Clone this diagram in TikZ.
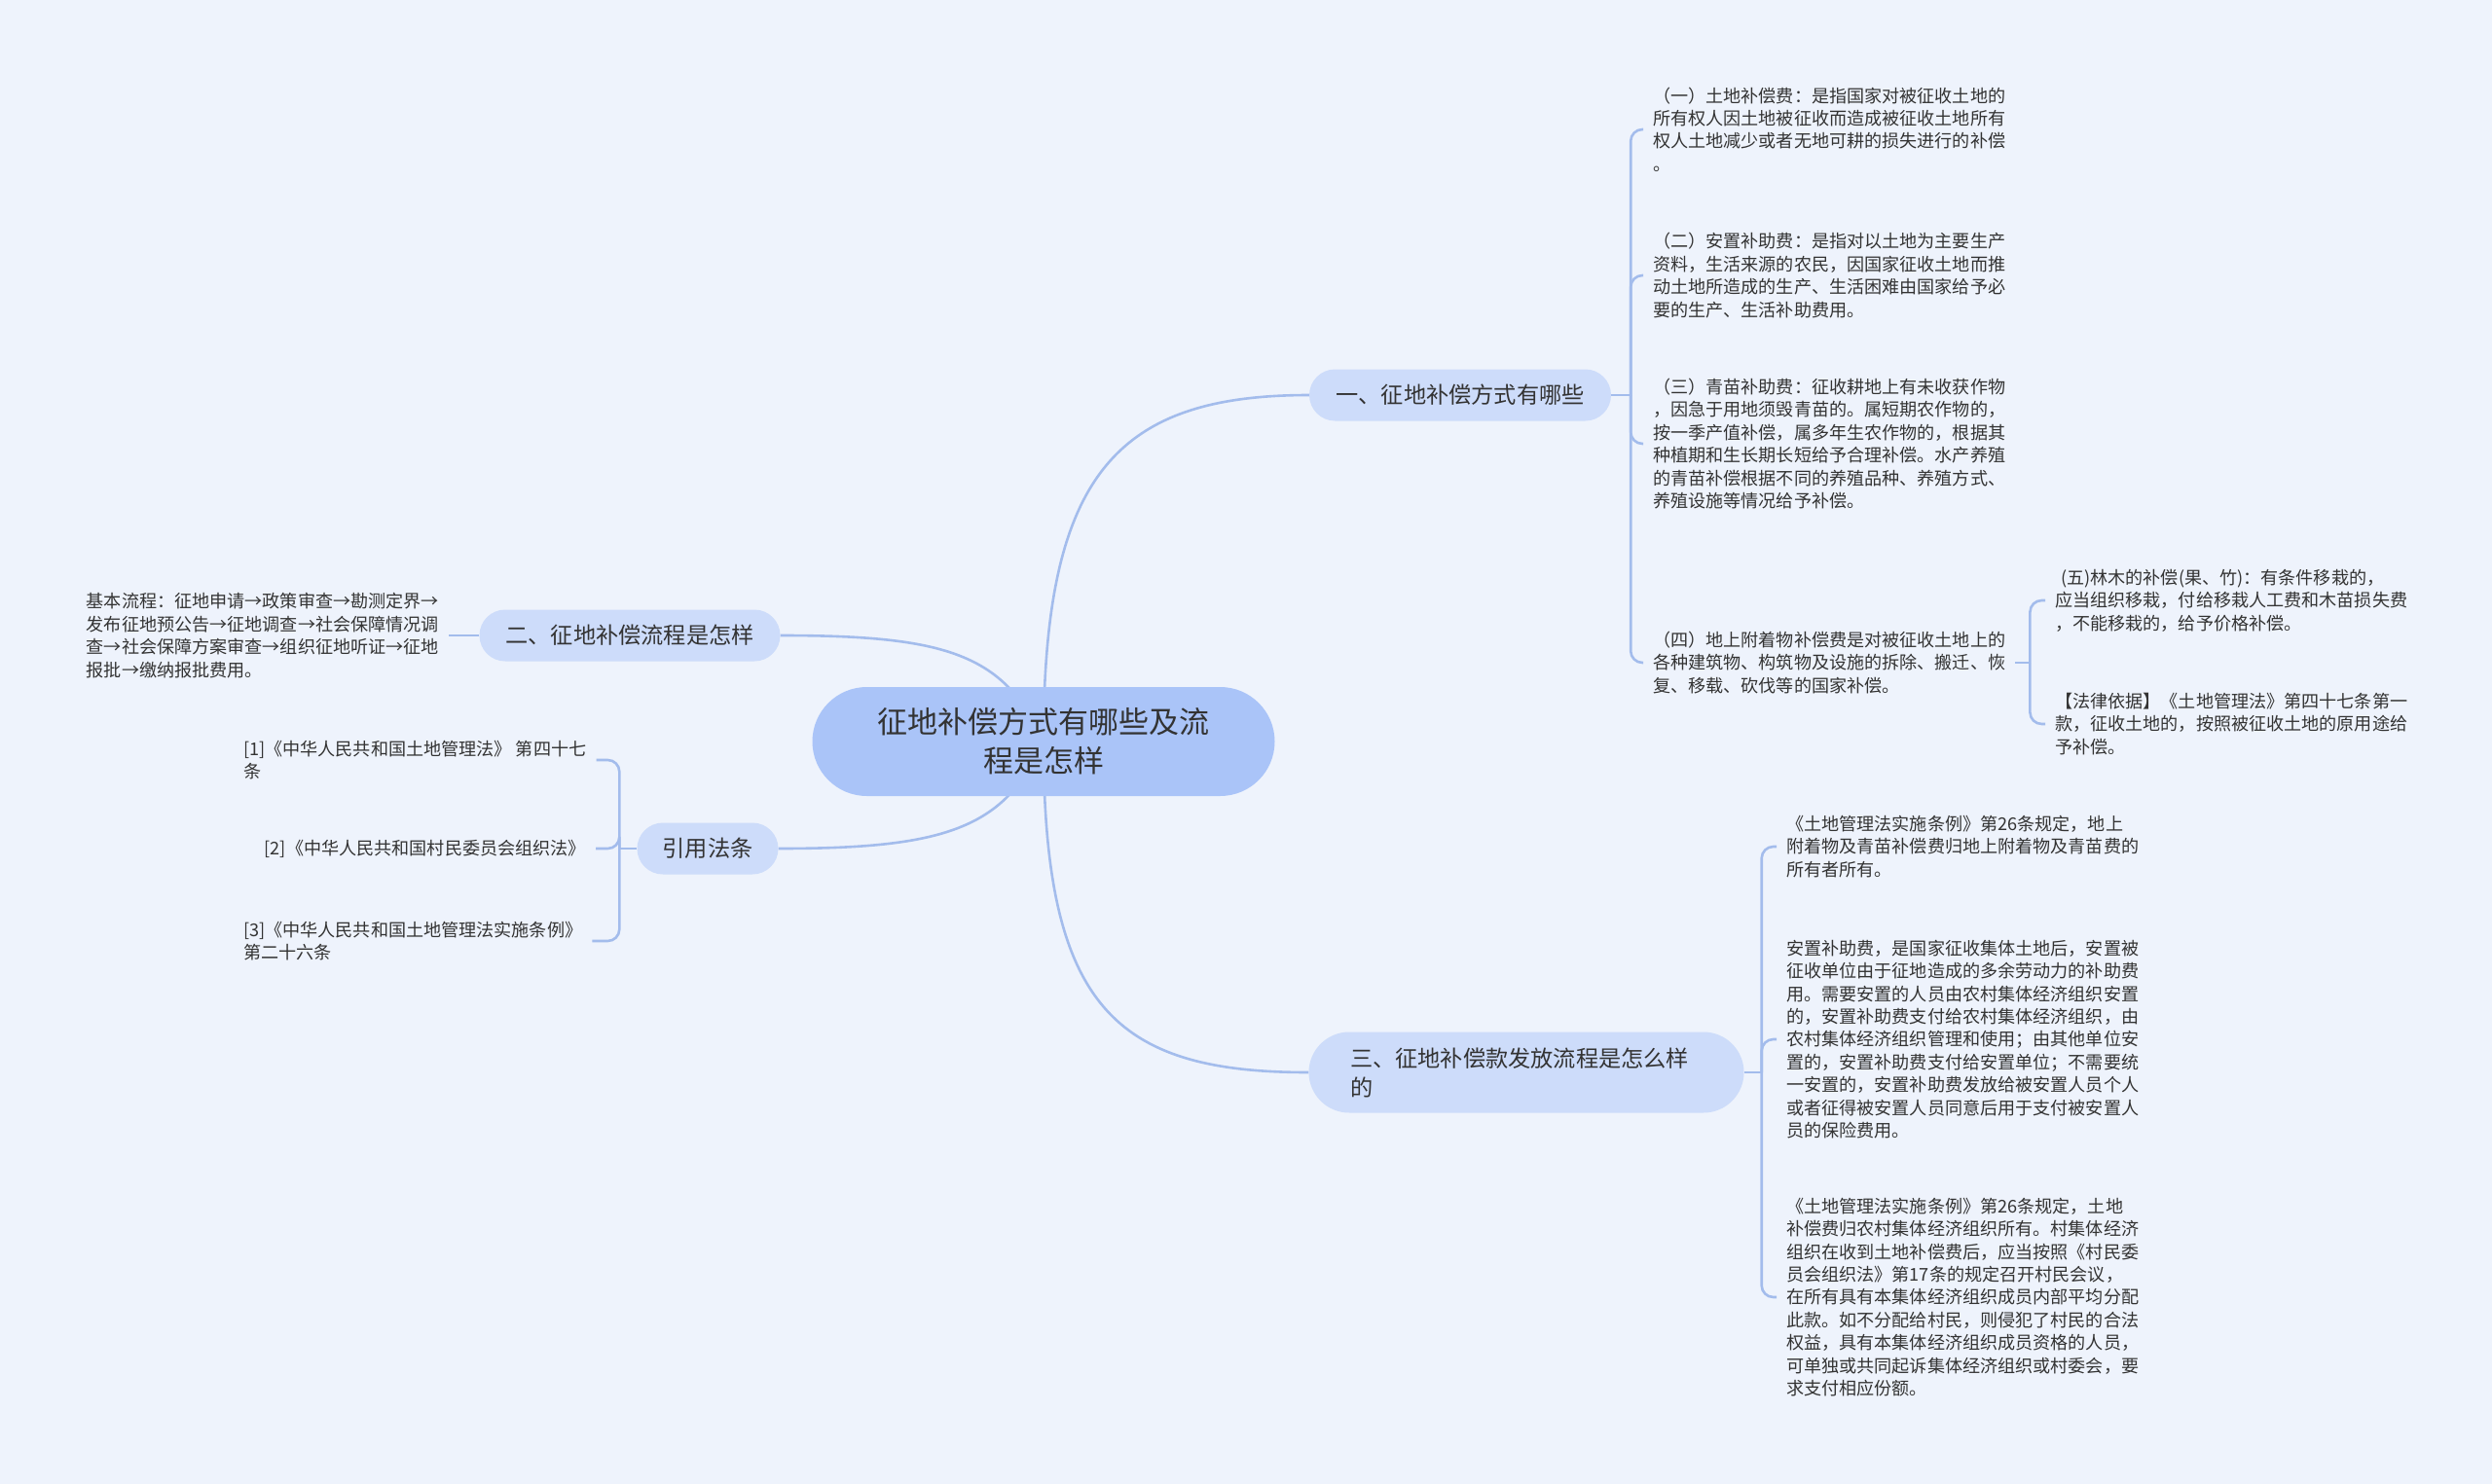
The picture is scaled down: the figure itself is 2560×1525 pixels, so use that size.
\documentclass[tikz,border=0pt]{standalone}
\usepackage{fontspec}
\setmainfont{Noto Sans CJK SC}
\usetikzlibrary{shapes.misc}
\definecolor{paperblue}{RGB}{238,243,252}
\definecolor{hubblue}{RGB}{170,196,248}
\definecolor{topicblue}{RGB}{205,220,250}
\definecolor{wireblue}{RGB}{163,188,236}
\definecolor{inkgray}{RGB}{51,51,51}
\pgfdeclarelayer{paper}
\pgfdeclarelayer{wires}
\pgfsetlayers{paper,wires,main}

\begin{document}
\begin{tikzpicture}[
  x=1pt, y=-1pt,
  hub/.style={
    rounded rectangle,
    fill=hubblue,
    text=inkgray,
    align=center,
    font=\fontsize{31}{40}\selectfont,
    minimum width=475pt,
    minimum height=112pt,
    inner sep=0pt
  },
  topic/.style={
    rounded rectangle,
    fill=topicblue,
    text=inkgray,
    font=\fontsize{23.2}{30}\selectfont,
    minimum height=53pt,
    inner sep=0pt
  },
  leaf/.style={
    text=inkgray,
    align=left,
    font=\fontsize{18.1}{23.4}\selectfont,
    inner xsep=10pt,
    inner ysep=0pt
  },
  wire/.style={draw=wireblue, line width=2.6pt},
  fork/.style={wire, rounded corners=12pt}
]
\begin{pgfonlayer}{paper}
\fill[paperblue] (0,0) rectangle (2560,1525);
\end{pgfonlayer}

\node[hub] (root) at (1072,762) {征地补偿方式有哪些及流\\程是怎样};
\node[topic, minimum width=310pt] (t1) at (1500,406) {一、征地补偿方式有哪些};
\node[topic, minimum width=309pt] (t2) at (647,653) {二、征地补偿流程是怎样};
\node[topic, minimum width=145pt] (cite) at (727,872) {引用法条};
\node[topic, minimum width=447pt, minimum height=83pt, text width=362pt, align=left] (t3) at (1568,1102) {三、征地补偿款发放流程是怎么样\\的};

\node[leaf, anchor=west] (a1) at (1688,133) {（一）土地补偿费：是指国家对被征收土地的\\所有权人因土地被征收而造成被征收土地所有\\权人土地减少或者无地可耕的损失进行的补偿\\。};
\node[leaf, anchor=west] (a2) at (1688,283) {（二）安置补助费：是指对以土地为主要生产\\资料，生活来源的农民，因国家征收土地而推\\动土地所造成的生产、生活困难由国家给予必\\要的生产、生活补助费用。};
\node[leaf, anchor=west] (a3) at (1688,456) {（三）青苗补助费：征收耕地上有未收获作物\\，因急于用地须毁青苗的。属短期农作物的，\\按一季产值补偿，属多年生农作物的，根据其\\种植期和生长期长短给予合理补偿。水产养殖\\的青苗补偿根据不同的养殖品种、养殖方式、\\养殖设施等情况给予补偿。};
\node[leaf, anchor=west] (a4) at (1688,681) {（四）地上附着物补偿费是对被征收土地上的\\各种建筑物、构筑物及设施的拆除、搬迁、恢\\复、移载、砍伐等的国家补偿。};
\node[leaf, anchor=west] (a41) at (2101,617) {\hspace{6pt}(五)林木的补偿(果、竹)：有条件移栽的，\\应当组织移栽，付给移栽人工费和木苗损失费\\，不能移栽的，给予价格补偿。};
\node[leaf, anchor=west] (a42) at (2101,744) {【法律依据】《土地管理法》第四十七条第一\\款，征收土地的，按照被征收土地的原用途给\\予补偿。};

\node[leaf, anchor=east] (b1) at (461,653) {基本流程：征地申请→政策审查→勘测定界→\\发布征地预公告→征地调查→社会保障情况调\\查→社会保障方案审查→组织征地听证→征地\\报批→缴纳报批费用。};

\node[leaf, anchor=west] (c1) at (240,781) {[1]《中华人民共和国土地管理法》 第四十七\\条};
\node[leaf, anchor=east] (c2) at (612,872) {[2]《中华人民共和国村民委员会组织法》};
\node[leaf, anchor=west] (c3) at (240,967) {[3]《中华人民共和国土地管理法实施条例》\\第二十六条};

\node[leaf, anchor=west] (d1) at (1825,870) {《土地管理法实施条例》第26条规定，地上\\附着物及青苗补偿费归地上附着物及青苗费的\\所有者所有。};
\node[leaf, anchor=west] (d2) at (1825,1068) {安置补助费，是国家征收集体土地后，安置被\\征收单位由于征地造成的多余劳动力的补助费\\用。需要安置的人员由农村集体经济组织安置\\的，安置补助费支付给农村集体经济组织，由\\农村集体经济组织管理和使用；由其他单位安\\置的，安置补助费支付给安置单位；不需要统\\一安置的，安置补助费发放给被安置人员个人\\或者征得被安置人员同意后用于支付被安置人\\员的保险费用。};
\node[leaf, anchor=west] (d3) at (1825,1333) {《土地管理法实施条例》第26条规定，土地\\补偿费归农村集体经济组织所有。村集体经济\\组织在收到土地补偿费后，应当按照《村民委\\员会组织法》第17条的规定召开村民会议，\\在所有具有本集体经济组织成员内部平均分配\\此款。如不分配给村民，则侵犯了村民的合法\\权益，具有本集体经济组织成员资格的人员，\\可单独或共同起诉集体经济组织或村委会，要\\求支付相应份额。};

\begin{pgfonlayer}{wires}
\draw[wire] (root.center) .. controls +(0,-272) and +(-200,0) .. (t1.west);
\draw[wire] (root.center) .. controls +(0,272) and +(-200,0) .. (t3.west);
\draw[wire] (t2.east) .. controls +(170,0) and +(-40,-90) .. (root.center);
\draw[wire] (cite.east) .. controls +(170,0) and +(-40,90) .. (root.center);
\end{pgfonlayer}

\draw[wire] (t1.east) -- ++(20,0);
\draw[fork] (t1.east) ++(20,0) |- (a1.west);
\draw[fork] (t1.east) ++(20,0) |- (a2.west);
\draw[fork] (t1.east) ++(20,0) |- (a3.west);
\draw[fork] (t1.east) ++(20,0) |- (a4.west);

\draw[wire] (a4.east) -- ++(15,0);
\draw[fork] (a4.east) ++(15,0) |- (a41.west);
\draw[fork] (a4.east) ++(15,0) |- (a42.west);

\draw[wire] (t2.west) -- (b1.east);

\draw[wire] (cite.west) -- ++(-18,0);
\draw[fork] (cite.west) ++(-18,0) |- (c1.east);
\draw[fork] (cite.west) ++(-18,0) |- (c2.east);
\draw[fork] (cite.west) ++(-18,0) |- (c3.east);

\draw[wire] (t3.east) -- ++(18,0);
\draw[fork] (t3.east) ++(18,0) |- (d1.west);
\draw[fork] (t3.east) ++(18,0) |- (d2.west);
\draw[fork] (t3.east) ++(18,0) |- (d3.west);
\end{tikzpicture}
\end{document}
